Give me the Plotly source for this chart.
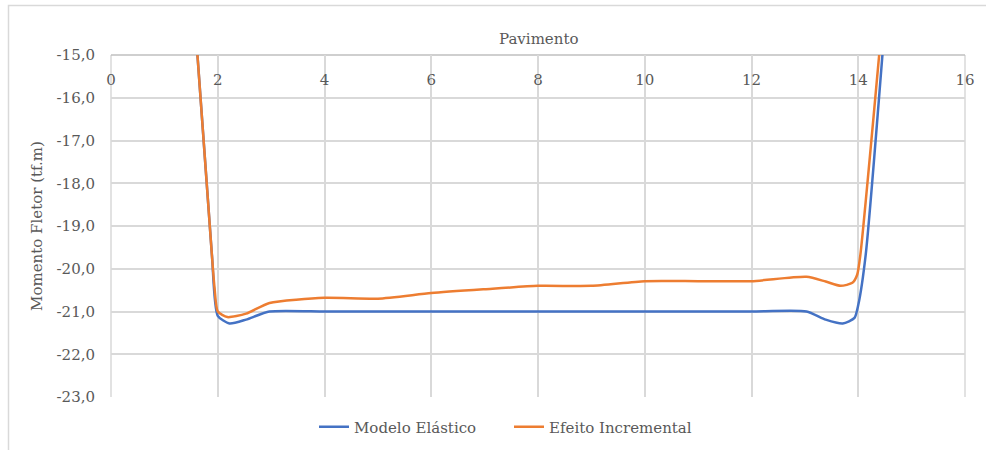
import plotly.graph_objects as go

# Bending moment along the slab, read at stations x (m), values in tf.m
x_elastico = [1.55, 1.89, 2.0, 2.22, 2.53, 2.97, 4, 5, 6, 7, 8, 9, 10, 11, 12, 13.03,
              13.39, 13.71, 13.93, 14.0, 14.14, 14.5]
modelo_elastico = [-13.8, -19.67, -21.1, -21.28, -21.19, -21.0, -21.0, -21.0, -21.0,
                   -21.0, -21.0, -21.0, -21.0, -21.0, -21.0, -21.0,
                   -21.19, -21.28, -21.15, -20.85, -19.67, -14.25]

x_incremental = [1.55, 1.89, 1.94, 2.0, 2.18, 2.53, 2.97, 4, 5, 6, 7, 8, 9, 10, 11, 12,
                 13.03, 13.39, 13.67, 13.89, 13.98, 14.04, 14.45]
efeito_incremental = [-13.8, -19.67, -20.45, -21.0, -21.13, -21.05, -20.8, -20.68, -20.7,
                      -20.57, -20.48, -20.4, -20.4, -20.29, -20.29, -20.29,
                      -20.19, -20.3, -20.4, -20.33, -20.14, -19.67, -14.2]

y_ticks = [-23, -22, -21, -20, -19, -18, -17, -16, -15]
y_ticktext = ["-23,0", "-22,0", "-21,0", "-20,0", "-19,0", "-18,0", "-17,0", "-16,0", "-15,0"]
x_ticks = [0, 2, 4, 6, 8, 10, 12, 14, 16]

FONT = "DejaVu Serif"
GREY = "#595959"
GRID = "#d9d9d9"
FS = 15

fig = go.Figure()
fig.add_trace(go.Scatter(
    x=x_elastico, y=modelo_elastico, name="Modelo Elástico", mode="lines",
    line=dict(color="#4472c4", width=2.5, shape="spline", smoothing=0.6),
))
fig.add_trace(go.Scatter(
    x=x_incremental, y=efeito_incremental, name="Efeito Incremental", mode="lines",
    line=dict(color="#ed7d31", width=2.5, shape="spline", smoothing=0.6),
))

L, R, T, B = 111, 21, 55, 53
W, H = 986, 450
pw, ph = W - L - R, H - T - B

def px_to_paper(px, py):
    return (px - L) / pw, (H - B - py) / ph

bx0, by0 = px_to_paper(8.5, 5.5)
bx1, by1 = px_to_paper(995, 460)
_, axis_pos = px_to_paper(0, 69)
_, title_y = px_to_paper(0, 39)
legend_x, legend_y = px_to_paper(314, 427)

fig.update_layout(
    width=W, height=H,
    margin=dict(l=L, r=R, t=T, b=B, autoexpand=False),
    paper_bgcolor="white", plot_bgcolor="white",
    font=dict(family=FONT, size=FS, color=GREY),
    showlegend=True,
    legend=dict(orientation="h", x=legend_x, xanchor="left", y=legend_y, yanchor="middle",
                font=dict(family=FONT, size=FS, color=GREY),
                itemwidth=30, tracegroupgap=0, entrywidth=150),
    xaxis=dict(
        range=[0, 16], tickvals=x_ticks, side="bottom",
        anchor="free", position=axis_pos, ticks="",
        showgrid=True, gridcolor=GRID, gridwidth=1.5,
        showline=False, zeroline=False,
        tickfont=dict(family=FONT, size=FS, color=GREY),
    ),
    yaxis=dict(
        range=[-23, -15], tickvals=y_ticks, ticktext=y_ticktext,
        showgrid=True, gridcolor=GRID, gridwidth=1.5,
        showline=False, zeroline=False, ticks="", ticklabelstandoff=15,
        tickfont=dict(family=FONT, size=FS, color=GREY),
        title=dict(text="Momento Fletor (tf.m)", font=dict(family=FONT, size=FS, color=GREY),
                   standoff=10),
    ),
    annotations=[
        dict(text="Pavimento", xref="paper", yref="paper", x=0.5, y=title_y,
             showarrow=False, xanchor="center", yanchor="middle",
             font=dict(family=FONT, size=FS, color=GREY)),
    ],
    shapes=[
        # plot frame: left, right in grid colour, top axis line darker
        dict(type="line", xref="paper", yref="paper", x0=0, x1=0, y0=0, y1=1,
             line=dict(color=GRID, width=1.5), layer="below"),
        dict(type="line", xref="paper", yref="paper", x0=1, x1=1, y0=0, y1=1,
             line=dict(color=GRID, width=1.5), layer="below"),
        dict(type="line", xref="paper", yref="paper", x0=0, x1=1, y0=1, y1=1,
             line=dict(color="#bfbfbf", width=1.5), layer="below"),
        # outer chart border
        dict(type="rect", xref="paper", yref="paper", x0=bx0, x1=bx1, y0=by1, y1=by0,
             line=dict(color=GRID, width=1.5), layer="below"),
    ],
)

fig.write_html("out.html")
